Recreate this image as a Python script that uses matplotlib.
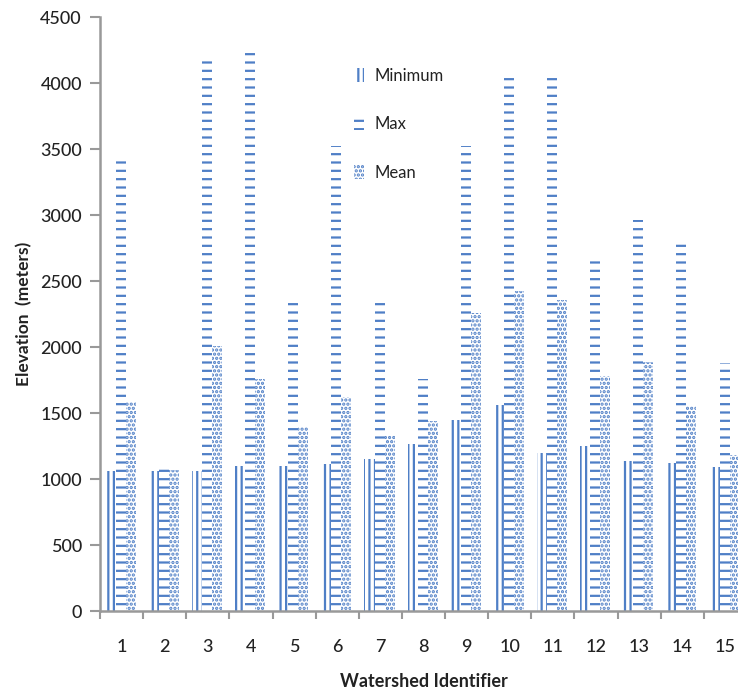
import matplotlib
matplotlib.use("Agg")
import matplotlib.pyplot as plt
import numpy as np

watersheds = [str(i) for i in range(1, 16)]
minimum = [1060, 1060, 1060, 1095, 1100, 1110, 1150, 1265, 1445, 1560, 1195, 1250, 1135, 1125, 1090]
maximum = [3450, 1085, 4175, 4240, 2365, 3520, 2365, 1760, 3520, 4055, 4055, 2665, 2965, 2785, 1880]
mean = [1580, 1065, 2010, 1755, 1395, 1620, 1335, 1440, 2255, 2425, 2355, 1780, 1890, 1555, 1180]
series_names = ["Minimum", "Max", "Mean"]
yticks = [0, 500, 1000, 1500, 2000, 2500, 3000, 3500, 4000, 4500]

blue = "#4f7fc6"
text_color = "#222222"
plt.rcParams['font.family'] = ['Lato', 'DejaVu Sans']
plt.rcParams['hatch.linewidth'] = 1.6

fig = plt.figure(figsize=(7.38, 6.91), dpi=100)
ax = fig.add_axes([100/738, 80/691, 647/738, 594/691])

x = np.arange(1, 16)
w = 0.232
offsets = [-0.252, -0.02, 0.212]
hatches = ["|||", "--", "...."]
for vals, off, h, name in zip([minimum, maximum, mean], offsets, hatches, series_names):
    ax.bar(x + off, vals, width=w, facecolor="none", edgecolor=blue,
           linewidth=0, hatch=h, label=name)

ax.set_xlim(0.5, 15.5)
ax.set_ylim(0, 4500)
ax.set_yticks(yticks)
ax.set_yticklabels([str(v) for v in yticks])
ax.set_xticks(x)
ax.set_xticklabels(watersheds)
ax.set_xticks(np.arange(0.5, 16, 1), minor=True)
ax.tick_params(axis='x', which='major', length=0, pad=20, labelsize=13, colors=text_color)
ax.tick_params(axis='x', which='minor', length=6, width=1.5, color="#999999")
ax.tick_params(axis='y', length=7, width=1.5, color="#999999", pad=6, labelsize=13, labelcolor=text_color)
for lab in ax.get_xticklabels() + ax.get_yticklabels():
    lab.set_fontweight("medium")

for s in ["top", "right"]:
    ax.spines[s].set_visible(False)
for s in ["left", "bottom"]:
    ax.spines[s].set_color("#999999")
    ax.spines[s].set_linewidth(1.8)

ax.set_ylabel("Elevation  (meters)", fontsize=12.5, fontweight="bold", color=text_color, labelpad=6)
ax.set_xlabel("Watershed Identifier", fontsize=13, fontweight="bold", color=text_color, labelpad=13)

leg = ax.legend(loc="upper left", bbox_to_anchor=(0.37, 0.94), frameon=False,
                fontsize=12, labelspacing=1.95, handlelength=0.6, handleheight=0.9,
                handletextpad=0.6)
for t in leg.get_texts():
    t.set_color(text_color)

fig.savefig("out.png", dpi=100)
